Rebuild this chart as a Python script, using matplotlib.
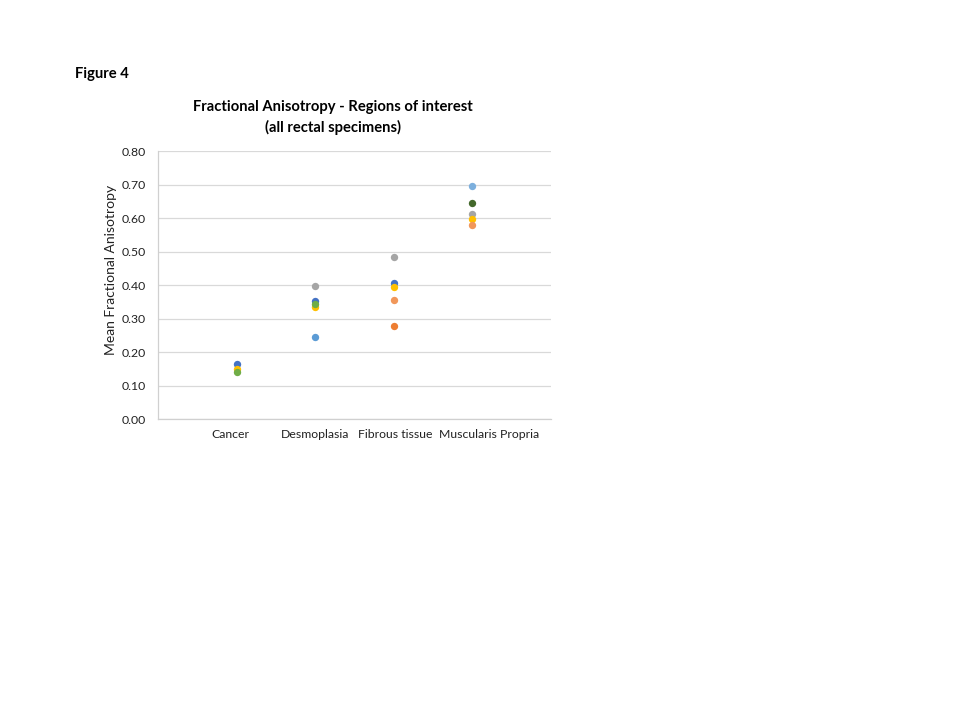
import numpy as np
import matplotlib.pyplot as plt
import matplotlib.transforms as mtransforms

regions = ['Cancer', 'Desmoplasia', 'Fibrous tissue', 'Muscularis Propria']

# FA values per series (None = no point), one entry per region
series_values = [
    [0.164, 0.352, 0.406, None],
    [None, None, 0.278, None],
    [None, 0.397, 0.484, 0.612],
    [0.150, 0.334, 0.394, 0.597],
    [None, 0.245, None, None],
    [0.140, 0.343, None, None],
    [None, None, None, 0.645],
    [None, None, None, 0.695],
    [None, None, 0.355, 0.579],
]
series_colors = ['#4472C4', '#ED7D31', '#A5A5A5', '#FFC000', '#5B9BD5',
                 '#70AD47', '#43682B', '#7CAFDD', '#F1975A']

plt.rcParams['font.family'] = ['Lato', 'DejaVu Sans']

fig = plt.figure(figsize=(9.6, 7.2), dpi=100)
ax = fig.add_axes([0.1646, 0.418, 0.4094, 0.3722])

x_pos = np.arange(1, len(regions) + 1)
for vals, col in zip(series_values, series_colors):
    xs = [x for x, v in zip(x_pos, vals) if v is not None]
    ys = [v for v in vals if v is not None]
    ax.scatter(xs, ys, s=28, color=col, zorder=3, linewidths=0)

ax.set_xlim(0, 5)
ax.set_ylim(0, 0.8)
ax.set_yticks(np.arange(0, 0.81, 0.1))
ax.set_yticklabels([f'{v:.2f}' for v in np.arange(0, 0.81, 0.1)], fontsize=8.8, color='#222222')
ax.set_xticks(x_pos)
ax.set_xticklabels(regions, fontsize=8.8, color='#222222')
ax.tick_params(axis='y', length=0, pad=9)
ax.tick_params(axis='x', length=0, pad=7)

# Excel nudges the outer category labels a little; mimic that so they don't collide
label_shift_px = [-6, 0, 1, 17]
for lbl, dx in zip(ax.get_xticklabels(), label_shift_px):
    lbl.set_transform(lbl.get_transform() +
                      mtransforms.ScaledTranslation(dx / 100, 0, fig.dpi_scale_trans))

ax.grid(axis='y', color='#D9D9D9', linewidth=0.9)
ax.set_axisbelow(True)
for side in ['top', 'right']:
    ax.spines[side].set_visible(False)
for side in ['left', 'bottom']:
    ax.spines[side].set_color('#D0D0D0')
    ax.spines[side].set_linewidth(0.9)
ax.set_ylabel('Mean Fractional Anisotropy', fontsize=10, color='#222222')
ax.yaxis.set_label_coords(-0.104, 0.556)

fig.text(0.347, 0.837, 'Fractional Anisotropy - Regions of interest\n(all rectal specimens)',
         ha='center', va='center', fontsize=10.6, fontweight='bold', linespacing=1.45)
fig.text(0.078, 0.897, 'Figure 4', ha='left', va='center', fontsize=10.6, fontweight='bold')

fig.savefig('out.png', dpi=100)
